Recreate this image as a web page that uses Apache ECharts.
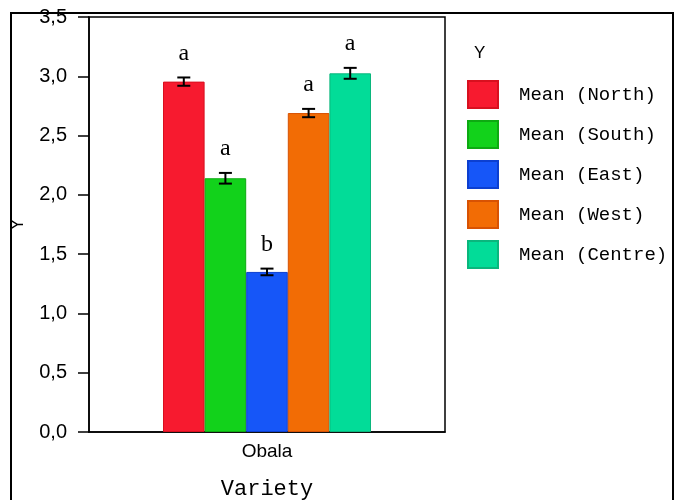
<!DOCTYPE html>
<html>
<head>
<meta charset="utf-8">
<script src="https://cdn.jsdelivr.net/npm/echarts@6/dist/echarts.min.js"></script>
<style>html,body{margin:0;padding:0;background:#fff}#c{width:676px;height:500px}</style>
</head>
<body>
<div id="c"></div>
<script>
// ---- data ----
const categories = ['Obala'];
const seriesNames = ['Mean (North)', 'Mean (South)', 'Mean (East)', 'Mean (West)', 'Mean (Centre)'];
const means = [2.955, 2.14, 1.35, 2.69, 3.025];
const errors = [0.035, 0.045, 0.028, 0.035, 0.046];
const letters = ['a', 'a', 'b', 'a', 'a'];
const yTicks = [0, 0.5, 1.0, 1.5, 2.0, 2.5, 3.0, 3.5];

// ---- style ----
const colors = ['#F71A2F', '#12D21B', '#1656F8', '#F26C05', '#02DC98'];
const borders = ['#D8101F', '#0DAA12', '#0C3FD0', '#D85203', '#0AB67C'];
const BAR_W = 41.6;

const chart = echarts.init(document.getElementById('c'), null, {renderer: 'canvas'});

const barSeries = seriesNames.map((name, i) => ({
  name: name,
  type: 'bar',
  data: categories.map(() => means[i]),
  barWidth: BAR_W,
  barGap: '0%',
  itemStyle: {color: colors[i], borderColor: borders[i], borderWidth: 1},
  z: 2
}));

const errSeries = {
  type: 'custom',
  name: 'err',
  data: means.map((m, i) => [0, m, errors[i], i]),
  encode: {x: 0, y: 1},
  z: 5,
  renderItem: function (params, api) {
    const i = api.value(3);
    const m = api.value(1), e = api.value(2);
    const top = api.coord([0, m + e]);
    const bot = api.coord([0, m - e]);
    const cx = top[0] + (i - 2) * BAR_W;
    const cap = 6.5;
    const st = {stroke: '#000', lineWidth: 2};
    return {
      type: 'group',
      children: [
        {type: 'line', shape: {x1: cx, y1: top[1], x2: cx, y2: bot[1]}, style: st},
        {type: 'line', shape: {x1: cx - cap, y1: top[1], x2: cx + cap, y2: top[1]}, style: st},
        {type: 'line', shape: {x1: cx - cap, y1: bot[1], x2: cx + cap, y2: bot[1]}, style: st},
        {type: 'text', x: cx, y: top[1] - 24,
          style: {text: letters[i], fill: '#000', font: '24px "Liberation Serif"', align: 'center', verticalAlign: 'middle'}}
      ]
    };
  }
};

chart.setOption({
  animation: false,
  backgroundColor: '#fff',
  grid: {left: 89, top: 17, right: 231, bottom: 68, show: true, borderColor: '#000', borderWidth: 1.5,
    backgroundColor: 'transparent', containLabel: false, outerBoundsMode: 'none'},
  title: {text: 'Y', left: 469, top: 40, textStyle: {fontFamily: 'Liberation Sans', fontSize: 17, fontWeight: 'normal', color: '#000'}},
  legend: {
    orient: 'vertical', left: 467, top: 80, padding: 0,
    itemWidth: 30, itemHeight: 27, itemGap: 11,
    icon: 'rect',
    data: seriesNames,
    textStyle: {fontFamily: 'Liberation Mono', fontSize: 19, lineHeight: 19, color: '#000', padding: [0, 0, 0, 16]}
  },
  xAxis: {
    type: 'category', data: categories,
    name: 'Variety', nameLocation: 'middle', nameGap: 46,
    nameTextStyle: {fontFamily: 'Liberation Mono', fontSize: 22, color: '#000'},
    axisLine: {lineStyle: {color: '#000', width: 1.5}},
    axisTick: {show: false},
    axisLabel: {color: '#000', fontFamily: 'Liberation Sans', fontSize: 19, margin: 10}
  },
  yAxis: {
    type: 'value', min: 0, max: 3.5, interval: 0.5,
    name: 'Y', nameLocation: 'middle', nameGap: 62,
    nameTextStyle: {fontFamily: 'Liberation Sans', fontSize: 18, color: '#000'},
    axisLine: {show: true, lineStyle: {color: '#000', width: 1.5}},
    axisTick: {show: true, length: 11, lineStyle: {color: '#000', width: 1.5}},
    splitLine: {show: false},
    axisLabel: {color: '#000', fontFamily: 'Liberation Sans', fontSize: 20, margin: 22,
      formatter: v => yTicks.includes(v) ? v.toFixed(1).replace('.', ',') : ''}
  },
  graphic: [{
    type: 'rect', shape: {x: 11, y: 13, width: 662, height: 500}, silent: true,
    style: {fill: 'none', stroke: '#000', lineWidth: 2}, z: 100
  }],
  series: barSeries.concat([errSeries])
});
</script>
</body>
</html>
